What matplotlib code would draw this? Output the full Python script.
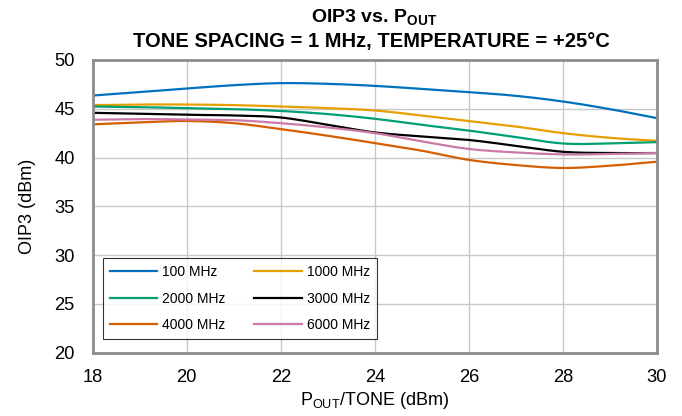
import numpy as np
import matplotlib
matplotlib.use("Agg")
import matplotlib.pyplot as plt

plt.rcParams['font.family'] = ['Liberation Sans', 'DejaVu Sans']
plt.rcParams['mathtext.fontset'] = 'custom'
plt.rcParams['mathtext.rm'] = 'Liberation Sans'
plt.rcParams['mathtext.bf'] = 'Liberation Sans:bold'
plt.rcParams['mathtext.default'] = 'regular'

pout = [18, 19, 20, 21, 22, 23, 24, 25, 26, 27, 28, 29, 30]
oip3_100 = [46.35, 46.70, 47.07, 47.41, 47.62, 47.55, 47.34, 47.03, 46.70, 46.32, 45.74, 44.96, 44.04]
oip3_1000 = [45.37, 45.43, 45.43, 45.37, 45.23, 45.06, 44.82, 44.30, 43.74, 43.18, 42.50, 42.02, 41.71]
oip3_2000 = [45.23, 45.16, 45.06, 44.96, 44.77, 44.45, 43.97, 43.35, 42.76, 42.10, 41.44, 41.44, 41.58]
oip3_3000 = [44.58, 44.48, 44.38, 44.31, 44.10, 43.35, 42.57, 42.16, 41.80, 41.20, 40.59, 40.46, 40.46]
oip3_4000 = [43.40, 43.60, 43.74, 43.52, 42.91, 42.23, 41.48, 40.70, 39.76, 39.23, 38.93, 39.16, 39.57]
oip3_6000 = [43.87, 43.94, 43.90, 43.83, 43.52, 43.08, 42.50, 41.65, 40.88, 40.52, 40.32, 40.36, 40.46]

labels = ['100 MHz', '1000 MHz', '2000 MHz', '3000 MHz', '4000 MHz', '6000 MHz']
series = [oip3_100, oip3_1000, oip3_2000, oip3_3000, oip3_4000, oip3_6000]
colors = ['#0072BD', '#E69F00', '#009E73', '#000000', '#D55E00', '#CC79A7']

xticks = [18, 20, 22, 24, 26, 28, 30]
yticks = [20, 25, 30, 35, 40, 45, 50]


def smooth(x, y, n=20):
    # Catmull-Rom rendering between the read points
    x = np.asarray(x, float); y = np.asarray(y, float)
    xs, ys = [], []
    for i in range(len(x) - 1):
        y0 = y[i - 1] if i > 0 else 2 * y[i] - y[i + 1]
        y3 = y[i + 2] if i + 2 < len(y) else 2 * y[i + 1] - y[i]
        t = np.linspace(0, 1, n, endpoint=False)
        yy = 0.5 * ((2 * y[i]) + (-y0 + y[i + 1]) * t +
                    (2 * y0 - 5 * y[i] + 4 * y[i + 1] - y3) * t ** 2 +
                    (-y0 + 3 * y[i] - 3 * y[i + 1] + y3) * t ** 3)
        xs.append(x[i] + (x[i + 1] - x[i]) * t)
        ys.append(yy)
    xs.append([x[-1]]); ys.append([y[-1]])
    return np.concatenate(xs), np.concatenate(ys)


fig = plt.figure(figsize=(6.82, 4.16), dpi=100)
ax = fig.add_axes([0.136, 0.152, 0.827, 0.704])

handles = []
for vals, lab, c in zip(series, labels, colors):
    xs, ys = smooth(pout, vals)
    h, = ax.plot(xs, ys, color=c, lw=1.6, label=lab)
    handles.append(h)

ax.set_xlim(18, 30)
ax.set_ylim(20, 50)
ax.set_xticks(xticks)
ax.set_yticks(yticks)
ax.tick_params(axis='x', length=0, labelsize=13.2, pad=11.5)
ax.tick_params(axis='y', length=0, labelsize=13.2, pad=13)
ax.grid(True, color='#c8c8c8', lw=1)
ax.set_axisbelow(True)
for s in ax.spines.values():
    s.set_color('#8c8c8c')
    s.set_linewidth(2)

ax.set_xlabel('P$_{OUT}$/TONE (dBm)', fontsize=13, labelpad=3)
ax.set_ylabel('OIP3 (dBm)', fontsize=13, labelpad=13)

fig.text(0.549, 0.958, 'OIP3 vs. P$_{OUT}$', ha='center', va='center',
         fontsize=14, fontweight='bold')
fig.text(0.545, 0.900, 'TONE SPACING = 1 MHz, TEMPERATURE = +25°C', ha='center',
         va='center', fontsize=14.5, fontweight='bold')

order = [0, 2, 4, 1, 3, 5]
leg = ax.legend([handles[i] for i in order], [labels[i] for i in order],
                loc='lower left', bbox_to_anchor=(0.018, 0.046), ncol=2,
                fontsize=10, frameon=True, fancybox=False, edgecolor='black',
                handlelength=3.4, columnspacing=2.1, labelspacing=0.9,
                borderpad=0.5, handletextpad=0.35, borderaxespad=0)
leg.get_frame().set_linewidth(0.8)

fig.savefig('out.png', dpi=100)
